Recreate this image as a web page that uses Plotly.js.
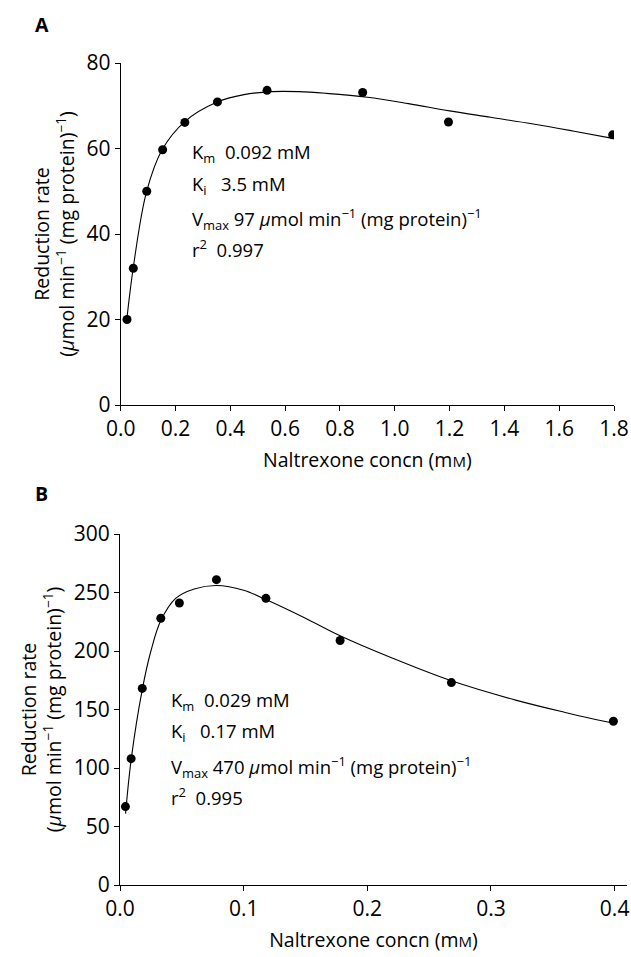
<!DOCTYPE html>
<html>
<head>
<meta charset="utf-8">
<script src="https://cdn.plot.ly/plotly-3.0.1.min.js"></script>
<style>html,body{margin:0;padding:0;background:#fff;}</style>
</head>
<body>
<div id="chart" style="width:631px;height:957px;"></div>
<script>
// Panel A data (naltrexone concn, mM vs reduction rate)
const aConc = [0.023, 0.046, 0.095, 0.153, 0.234, 0.353, 0.534, 0.883, 1.196, 1.795];
const aRate = [20, 32, 50, 59.7, 66.1, 70.9, 73.6, 73.1, 66.2, 63.2];
// Panel A fitted curve
const aFitConc = [0.021, 0.046, 0.094, 0.152, 0.234, 0.35, 0.45, 0.55, 0.65, 0.75, 0.9, 1.05, 1.2, 1.35, 1.5, 1.65, 1.8];
const aFitRate = [19.3, 32.2, 49.8, 59.8, 66.3, 70.8, 72.6, 73.3, 73.3, 72.9, 72.0, 70.5, 68.8, 67.3, 65.8, 64.1, 62.3];

// Panel B data
const bConc = [0.0044, 0.009, 0.018, 0.033, 0.048, 0.078, 0.118, 0.178, 0.268, 0.399];
const bRate = [67, 108, 168, 228, 241, 261, 245, 209, 173, 140];
// Panel B fitted curve
const bFitConc = [0.0045, 0.009, 0.018, 0.025, 0.033, 0.045, 0.06, 0.078, 0.1, 0.118, 0.15, 0.178, 0.22, 0.268, 0.32, 0.36, 0.4];
const bFitRate = [61, 107, 167, 200, 226, 245, 253, 256, 252, 244, 228, 213, 194, 174.5, 158, 147.5, 138];

const aYTicks = [0, 20, 40, 60, 80];
const aXTicks = [0, 0.2, 0.4, 0.6, 0.8, 1.0, 1.2, 1.4, 1.6, 1.8];
const bYTicks = [0, 50, 100, 150, 200, 250, 300];
const bXTicks = [0, 0.1, 0.2, 0.3, 0.4];

const aStats = ["K<sub>m</sub>  0.092 mM", "K<sub>i</sub>   3.5 mM", "V<sub>max</sub> 97 <i>μ</i>mol min<sup>−1</sup> (mg protein)<sup>−1</sup>", "r<sup>2</sup>  0.997"];
const bStats = ["K<sub>m</sub>  0.029 mM", "K<sub>i</sub>   0.17 mM", "V<sub>max</sub> 470 <i>μ</i>mol min<sup>−1</sup> (mg protein)<sup>−1</sup>", "r<sup>2</sup>  0.995"];

const FONT = "Open Sans, Noto Sans, sans-serif";
const mMsc = "m<span style='font-size:15px'>M</span>";
const xTitle = "Naltrexone concn (" + mMsc + ")";
const yTitle = "Reduction rate<br>(<i>μ</i>mol min<sup>−1</sup> (mg protein)<sup>−1</sup>)";

const traces = [
  {x: aFitConc, y: aFitRate, xaxis: 'x', yaxis: 'y', mode: 'lines', line: {color: '#000', width: 1.1, shape: 'spline'}, hoverinfo: 'skip'},
  {x: aConc, y: aRate, xaxis: 'x', yaxis: 'y', mode: 'markers', marker: {color: '#000', size: 9}},
  {x: bFitConc, y: bFitRate, xaxis: 'x2', yaxis: 'y2', mode: 'lines', line: {color: '#000', width: 1.1, shape: 'spline'}, hoverinfo: 'skip'},
  {x: bConc, y: bRate, xaxis: 'x2', yaxis: 'y2', mode: 'markers', marker: {color: '#000', size: 9}}
];

function axisBase() {
  return {
    showgrid: false, zeroline: false, showline: true, linecolor: '#000', linewidth: 1,
    ticks: 'outside', ticklen: 5, tickwidth: 1, tickcolor: '#000',
    tickfont: {family: FONT, size: 21, color: '#000'}
  };
}

const annotations = [];
const aY = [58.9, 51.5, 43.5, 36.5];
aStats.forEach((t, i) => annotations.push({xref: 'x', yref: 'y', x: 0.253, y: aY[i], text: t, showarrow: false, xanchor: 'left', yanchor: 'middle', font: {family: FONT, size: 18.5, color: '#000'}}));
const bY = [157, 131, 101, 75.5];
bStats.forEach((t, i) => annotations.push({xref: 'x2', yref: 'y2', x: 0.04, y: bY[i], text: t, showarrow: false, xanchor: 'left', yanchor: 'middle', font: {family: FONT, size: 18.5, color: '#000'}}));
annotations.push({xref: 'paper', yref: 'paper', x: 33/631, y: 1 - 25/957, text: '<b>A</b>', showarrow: false, xanchor: 'left', yanchor: 'middle', font: {family: FONT, size: 19.5, color: '#000'}});
annotations.push({xref: 'paper', yref: 'paper', x: 33/631, y: 1 - 494/957, text: '<b>B</b>', showarrow: false, xanchor: 'left', yanchor: 'middle', font: {family: FONT, size: 19.5, color: '#000'}});

const layout = {
  width: 631, height: 957,
  margin: {l: 0, r: 0, t: 0, b: 0},
  paper_bgcolor: '#fff', plot_bgcolor: '#fff',
  showlegend: false,
  xaxis: Object.assign(axisBase(), {domain: [120.7/631, 614/631], range: [0, 1.8], tickvals: aXTicks, ticktext: aXTicks.map(v => v.toFixed(1)), anchor: 'y',
    title: {text: xTitle, font: {family: FONT, size: 19.5, color: '#000'}, standoff: 12}}),
  yaxis: Object.assign(axisBase(), {domain: [(957-405)/957, (957-63)/957], range: [0, 80], tickvals: aYTicks, anchor: 'x',
    title: {text: yTitle, font: {family: FONT, size: 19.5, color: '#000'}, standoff: 6}}),
  xaxis2: Object.assign(axisBase(), {domain: [120/631, 627/631], range: [0, 0.41], tickvals: bXTicks, ticktext: bXTicks.map(v => v.toFixed(1)), anchor: 'y2',
    title: {text: xTitle, font: {family: FONT, size: 19.5, color: '#000'}, standoff: 12}}),
  yaxis2: Object.assign(axisBase(), {domain: [(957-885)/957, (957-534)/957], range: [0, 300], tickvals: bYTicks, anchor: 'x2',
    title: {text: yTitle, font: {family: FONT, size: 19.5, color: '#000'}, standoff: 6}}),
  annotations: annotations
};

Plotly.newPlot('chart', traces, layout, {displayModeBar: false, staticPlot: true});
</script>
</body>
</html>
